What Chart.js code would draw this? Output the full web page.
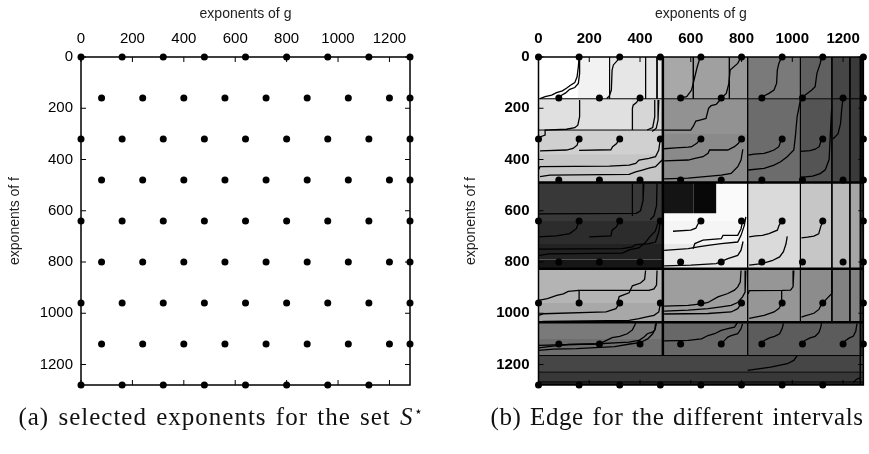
<!DOCTYPE html>
<html>
<head>
<meta charset="utf-8">
<script src="https://cdn.jsdelivr.net/npm/chart.js@4.4.1/dist/chart.umd.min.js"></script>
<style>
body { margin: 0; background: #fff; width: 869px; height: 454px; overflow: hidden; position: relative; }
canvas { position: absolute; top: 0; }
#c1 { left: 0; }
#c2 { left: 440px; }
.cap { position: absolute; top: 402px; font-family: 'Liberation Serif', serif; font-size: 25px; letter-spacing: 1px; word-spacing: 2px; text-align: center; white-space: nowrap; color: #111; line-height: 30px; }
.cap sup { font-size: 14px; line-height: 0; }
#capB { letter-spacing: 0.55px; }
</style>
</head>
<body>
<canvas id="c1" width="440" height="454"></canvas>
<canvas id="c2" width="429" height="454"></canvas>
<div class="cap" style="left:0;width:442px">(a) selected exponents for the set <i>S</i><sup>⋆</sup></div>
<div class="cap" id="capB" style="left:440px;width:474px">(b) Edge for the different intervals</div>
<script>
const tickValues = [0, 200, 400, 600, 800, 1000, 1200];

// the set S*: exponent of f for each row, exponents of g in that row
const rowsF = [0, 160, 320, 480, 640, 800, 960, 1120, 1280];
const gEven = [0, 160, 320, 480, 640, 800, 960, 1120, 1280];
const gOdd = [80, 240, 400, 560, 720, 880, 1040, 1200, 1280];
const gLast = [0, 160, 320, 480, 640, 800, 960, 1120];
const rowsG = [gEven, gOdd, gEven, gOdd, gEven, gOdd, gEven, gOdd, gLast];

// intervals of panel (b): [g from, g to, f from, f to, grey level of the edge]
const regions = [
  [0, 490, 0, 490, 205], [0, 280, 0, 163, 242], [0, 155, 0, 160, 255], [280, 490, 0, 163, 230],
  [0, 370, 163, 285, 224], [370, 490, 163, 285, 214], [0, 490, 285, 380, 208], [0, 490, 380, 490, 198],
  [490, 610, 0, 163, 168], [610, 752, 0, 163, 160], [752, 824, 0, 163, 152],
  [490, 824, 163, 300, 146], [490, 824, 300, 490, 138],
  [824, 1032, 0, 163, 122], [824, 1032, 163, 490, 108],
  [1032, 1156, 0, 163, 96], [1032, 1156, 163, 490, 84],
  [1156, 1227, 0, 490, 70], [1227, 1268, 0, 490, 58], [1268, 1280, 0, 490, 10],
  [0, 490, 490, 640, 56], [0, 490, 640, 730, 44], [0, 490, 730, 790, 34], [0, 490, 790, 826, 22],
  [490, 824, 490, 640, 250], [490, 610, 490, 610, 20], [610, 700, 490, 610, 8],
  [490, 824, 640, 730, 245], [490, 824, 730, 826, 232],
  [824, 1032, 490, 826, 218], [1032, 1156, 490, 826, 198], [1156, 1227, 490, 826, 186],
  [1227, 1268, 490, 826, 165], [1268, 1280, 490, 826, 40],
  [0, 490, 826, 960, 180], [0, 490, 960, 1035, 168], [490, 824, 826, 1035, 158],
  [824, 1032, 826, 1035, 150], [1032, 1156, 826, 1035, 140], [1156, 1268, 826, 1035, 130],
  [1268, 1280, 826, 1035, 40],
  [0, 490, 1035, 1100, 122], [0, 490, 1100, 1165, 110], [490, 824, 1035, 1165, 104],
  [824, 1268, 1035, 1165, 92], [1268, 1280, 1035, 1165, 40],
  [0, 1280, 1165, 1230, 70], [0, 1280, 1230, 1268, 56], [0, 1280, 1268, 1280, 40]
];

const mainBorders = [
  [[490, 0], [490, 1165]], [[0, 490], [1280, 490]], [[0, 826], [1280, 826]],
  [[0, 1035], [1280, 1035]], [[0, 1280], [1280, 1280]]
];
const subBorders = [
  [[0, 163], [1268, 163]], [[0, 285], [490, 285]],
  [[280, 0], [280, 163]], [[422, 0], [422, 163]], [[467, 0], [467, 163]],
  [[610, 0], [610, 163]], [[752, 0], [752, 163]],
  [[824, 0], [824, 1165]], [[1032, 0], [1032, 1035]], [[1156, 0], [1156, 1035]],
  [[1227, 0], [1227, 1035]], [[1268, 0], [1268, 1280]],
  [[0, 1165], [1280, 1165]], [[0, 1230], [1280, 1230]], [[0, 1268], [1280, 1268]]
];

// edge curves of panel (b), [g, f] points
const curves = [
  [[160, 0], [157, 38], [152, 77], [143, 100], [126, 110], [110, 122], [94, 132], [71, 139], [52, 149], [26, 155], [6, 162]],
  [[162, 0], [162, 64], [157, 103], [143, 119], [123, 126], [107, 140], [91, 149], [81, 162]],
  [[320, 0], [312, 12], [295, 31], [290, 51], [287, 129], [279, 152], [269, 162]],
  [[162, 168], [162, 233], [155, 266], [143, 276], [110, 282], [26, 285], [26, 305], [6, 312], [0, 322]],
  [[396, 162], [386, 178], [373, 188], [370, 200], [370, 285]],
  [[458, 168], [458, 233], [450, 275], [428, 285]],
  [[474, 168], [471, 246], [464, 278], [448, 291]],
  [[160, 318], [152, 344], [136, 357], [110, 363], [6, 366]],
  [[318, 318], [308, 338], [292, 350], [285, 362], [160, 364]],
  [[480, 318], [474, 363], [461, 389], [435, 396], [396, 402], [383, 415], [357, 422], [279, 426], [6, 428], [0, 440]],
  [[6, 467], [45, 461], [357, 458], [383, 448], [409, 441], [435, 434], [461, 428], [487, 402]],
  [[370, 495], [370, 620]],
  [[415, 495], [412, 560], [402, 600], [385, 610], [0, 612]],
  [[467, 495], [465, 580], [455, 620], [440, 635]],
  [[159, 641], [149, 670], [123, 689], [71, 698], [0, 702]],
  [[318, 641], [307, 663], [290, 676], [285, 698], [200, 702]],
  [[480, 641], [474, 683], [461, 722], [435, 728], [383, 732], [370, 741], [330, 748], [0, 750]],
  [[0, 775], [40, 768], [330, 765], [360, 752], [395, 745], [420, 725], [440, 700], [460, 680], [470, 650]],
  [[637, 0], [625, 40], [616, 77], [603, 129], [584, 155], [551, 161]],
  [[798, 0], [785, 25], [755, 51], [750, 103], [740, 142], [720, 160]],
  [[495, 285], [600, 285], [610, 270], [620, 250], [640, 245], [660, 240], [670, 200], [680, 190], [700, 185], [720, 162]],
  [[638, 318], [625, 336], [603, 350], [590, 352], [540, 355], [495, 358]],
  [[798, 318], [788, 337], [772, 350], [746, 363], [674, 363], [668, 376], [648, 389], [616, 396], [590, 402], [495, 405]],
  [[495, 476], [590, 473], [655, 467], [720, 461], [759, 454], [785, 428], [798, 402], [805, 360]],
  [[958, 0], [947, 25], [941, 51], [938, 103], [928, 129], [908, 142], [882, 155]],
  [[958, 318], [947, 350], [928, 363], [908, 370], [889, 376], [850, 379], [826, 383]],
  [[826, 441], [889, 435], [928, 422], [954, 409], [980, 389], [1006, 363], [1012, 311], [1019, 233], [1032, 168]],
  [[1116, 0], [1110, 25], [1097, 64], [1090, 116], [1077, 129], [1051, 148], [1038, 161]],
  [[1116, 318], [1106, 350], [1090, 360], [1070, 365], [1034, 368]],
  [[1034, 470], [1080, 465], [1110, 455], [1130, 440], [1145, 400], [1150, 300], [1155, 200]],
  [[1200, 162], [1195, 200], [1190, 260], [1180, 300], [1160, 320]],
  [[638, 641], [628, 652], [620, 668], [600, 676], [530, 680]],
  [[609, 748], [616, 728], [648, 715], [720, 709], [727, 696], [785, 696], [798, 670], [804, 641]],
  [[495, 755], [590, 748], [629, 741], [668, 735], [720, 728], [785, 722], [798, 696], [811, 657], [817, 624]],
  [[495, 815], [600, 812], [700, 806], [746, 787], [785, 774], [798, 754], [806, 720]],
  [[958, 641], [948, 657], [941, 676], [908, 689], [882, 696], [856, 698], [830, 702]],
  [[1120, 641], [1112, 662], [1104, 690], [1085, 699], [1060, 703], [1036, 706]],
  [[830, 812], [880, 806], [920, 795], [950, 780], [965, 760], [975, 730], [980, 700]],
  [[422, 833], [418, 868], [402, 882], [370, 893], [357, 920], [318, 935], [312, 955], [320, 963]],
  [[467, 833], [465, 890], [455, 905], [435, 911], [160, 911], [160, 963]],
  [[0, 950], [35, 943], [72, 930], [98, 924], [117, 915], [160, 911]],
  [[318, 963], [305, 982], [266, 995], [19, 1002], [0, 1008]],
  [[480, 963], [474, 995], [455, 1008], [422, 1015], [396, 1021], [357, 1028], [19, 1032], [0, 1035]],
  [[798, 833], [795, 878], [785, 897], [772, 910], [746, 923], [707, 936], [668, 958], [642, 963], [616, 966], [590, 969], [495, 972]],
  [[817, 833], [814, 917], [804, 936], [785, 958], [759, 969], [720, 975], [668, 982], [590, 988], [495, 992]],
  [[798, 963], [785, 982], [759, 995], [668, 1001], [495, 1003]],
  [[1006, 833], [1003, 897], [993, 910], [960, 911], [830, 912], [826, 925]],
  [[958, 911], [958, 963]],
  [[958, 963], [947, 982], [928, 995], [889, 1008], [830, 1020]],
  [[1156, 833], [1156, 923], [1136, 943], [1123, 958], [1116, 963]],
  [[1116, 963], [1105, 985], [1085, 1000], [1050, 1010], [1036, 1015]],
  [[461, 1041], [458, 1067], [448, 1074], [429, 1080], [416, 1093], [396, 1106], [357, 1113], [318, 1115], [240, 1119], [0, 1125]],
  [[0, 1135], [40, 1130], [80, 1125], [120, 1122], [237, 1120], [260, 1110], [290, 1095], [320, 1090], [350, 1080], [370, 1065], [380, 1045], [383, 1035]],
  [[0, 1145], [60, 1140], [150, 1138], [300, 1130], [360, 1120], [400, 1115], [430, 1100], [450, 1080], [460, 1060], [465, 1038]],
  [[495, 1108], [590, 1106], [642, 1100], [668, 1087], [694, 1080], [720, 1067], [746, 1060], [772, 1054], [785, 1035]],
  [[720, 1120], [733, 1106], [746, 1093], [759, 1087], [785, 1080], [798, 1060], [804, 1041]],
  [[876, 1120], [890, 1106], [910, 1096], [930, 1090], [950, 1080], [960, 1060], [965, 1040]],
  [[1040, 1120], [1050, 1106], [1070, 1096], [1090, 1090], [1105, 1075], [1112, 1055], [1115, 1038]],
  [[1200, 1120], [1210, 1106], [1225, 1096], [1240, 1090], [1250, 1070], [1255, 1040]],
  [[824, 1223], [915, 1210], [980, 1197], [1006, 1184], [1019, 1165]],
  [[1240, 1270], [1253, 1258], [1272, 1250]]
];

const family = "'Liberation Sans', Arial, sans-serif";
const toXY = pts => pts.map(p => ({ x: p[0], y: p[1] }));

const sStar = [];
rowsF.forEach((f, i) => rowsG[i].forEach(g => sStar.push({ x: g, y: f })));

const dotSet = {
  data: sStar, showLine: false, pointRadius: 3.5, pointBackgroundColor: '#000',
  pointBorderWidth: 0, clip: false, order: 0
};

function axes(bold, yWidth, yPad, yTitlePad) {
  const tickFont = { family, size: 15, weight: bold ? 'bold' : 'normal' };
  const titleFont = { family, size: 14 };
  const setTicks = s => { s.ticks = tickValues.map(v => ({ value: v })); };
  const plain = v => String(v);
  return {
    x: {
      type: 'linear', position: 'top', min: 0, max: 1280,
      grid: { display: false, drawTicks: false }, border: { display: false },
      afterBuildTicks: setTicks,
      afterFit: s => { s.height = 57; },
      ticks: { padding: 9, color: '#000', font: tickFont, maxRotation: 0, autoSkip: false, callback: plain },
      title: { display: true, text: 'exponents of g', color: '#222', font: titleFont, padding: { top: 6, bottom: 0 } }
    },
    y: {
      type: 'linear', reverse: true, min: 0, max: 1280,
      grid: { display: false, drawTicks: false }, border: { display: false },
      afterBuildTicks: setTicks,
      afterFit: s => { s.width = yWidth; },
      ticks: { padding: yPad, color: '#000', font: tickFont, autoSkip: false, callback: plain },
      title: { display: true, text: 'exponents of f', color: '#222', font: titleFont, padding: { top: yTitlePad, bottom: 0 } }
    }
  };
}

// box round the plot with inward ticks on all four sides, drawn just under the dots
const frame = {
  id: 'frame',
  beforeDatasetDraw(chart, args) {
    if (args.index !== 0) return;
    const { ctx, chartArea: a, scales: { x, y } } = chart;
    ctx.save();
    ctx.strokeStyle = '#000';
    ctx.lineWidth = 1.5;
    ctx.strokeRect(a.left, a.top, a.right - a.left, a.bottom - a.top);
    ctx.lineWidth = 1;
    ctx.beginPath();
    tickValues.forEach(v => {
      const px = x.getPixelForValue(v), py = y.getPixelForValue(v);
      ctx.moveTo(px, a.top); ctx.lineTo(px, a.top + 5);
      ctx.moveTo(px, a.bottom); ctx.lineTo(px, a.bottom - 5);
      ctx.moveTo(a.left, py); ctx.lineTo(a.left + 5, py);
      ctx.moveTo(a.right, py); ctx.lineTo(a.right - 5, py);
    });
    ctx.stroke();
    ctx.restore();
  }
};

const common = {
  responsive: false, animation: false, events: [],
  plugins: { legend: { display: false }, tooltip: { enabled: false } }
};

new Chart(document.getElementById('c1'), {
  type: 'line',
  data: { datasets: [dotSet] },
  options: {
    ...common,
    layout: { padding: { left: 0, top: 0, right: 30, bottom: 69 } },
    scales: axes(false, 81, 8, 7)
  },
  plugins: [frame]
});

const rightSets = [{ ...dotSet, data: sStar.slice() }];
curves.forEach(c => rightSets.push({
  data: toXY(c), borderColor: '#000', borderWidth: 1.3, pointRadius: 0, fill: false, order: 1
}));
mainBorders.forEach(c => rightSets.push({
  data: toXY(c), borderColor: '#000', borderWidth: 2.5, pointRadius: 0, fill: false, order: 2
}));
subBorders.forEach(c => rightSets.push({
  data: toXY(c), borderColor: '#000', borderWidth: 1, pointRadius: 0, fill: false, order: 3
}));
regions.forEach((r, i) => rightSets.push({
  data: toXY([[r[0], r[2]], [r[1], r[2]], [r[1], r[3]], [r[0], r[3]], [r[0], r[2]]]),
  backgroundColor: `rgb(${r[4]},${r[4]},${r[4]})`,
  borderColor: 'rgba(0,0,0,0)', borderWidth: 0, pointRadius: 0,
  fill: 'shape', order: 100 + regions.length - i
}));

new Chart(document.getElementById('c2'), {
  type: 'line',
  data: { datasets: rightSets },
  options: {
    ...common,
    layout: { padding: { left: 0, top: 0, right: 2, bottom: 69 } },
    scales: axes(true, 98.5, 9, 23)
  },
  plugins: [frame]
});
</script>
</body>
</html>
